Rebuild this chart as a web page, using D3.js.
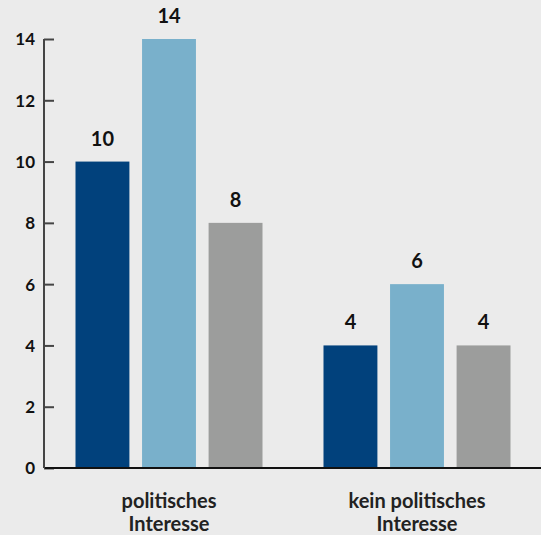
<!DOCTYPE html>
<html><head><meta charset="utf-8">
<script src="https://cdn.jsdelivr.net/npm/d3@7"></script>
<style>
html,body{margin:0;padding:0;background:#ebebeb;}
svg{display:block;font-family:Lato,"Noto Sans",sans-serif;font-weight:700;}
</style></head>
<body>
<svg id="c" width="541" height="535"></svg>
<script>
const categories = ["politisches\nInteresse", "kein politisches\nInteresse"];
const series = ["A", "B", "C"];
const valuesA = [10, 4];
const valuesB = [14, 6];
const valuesC = [8, 4];
const colors = ["#01417c", "#79b0cb", "#9c9d9c"];
const yTicks = [0, 2, 4, 6, 8, 10, 12, 14];

const W = 541, H = 535;
const m = {left: 45, right: 0, top: 39, bottom: 67};
const svg = d3.select("#c");
svg.append("rect").attr("width", W).attr("height", H).attr("fill", "#ebebeb");

const y = d3.scaleLinear().domain([0, 14]).range([H - m.bottom, m.top]);
const x0 = d3.scaleBand().domain(categories).range([m.left, W - m.right]).paddingInner(0).paddingOuter(0);
const x1 = d3.scaleBand().domain(series).range([0, 187]).paddingInner(0.19).paddingOuter(0);

const data = categories.map((c, i) => ({cat: c, vals: [valuesA[i], valuesB[i], valuesC[i]]}));

const g = svg.append("g");
const grp = g.selectAll("g.grp").data(data).join("g")
  .attr("transform", d => `translate(${x0(d.cat) + (x0.bandwidth() - 187) / 2},0)`);
grp.selectAll("rect").data(d => d.vals.map((v, j) => ({s: series[j], v, j}))).join("rect")
  .attr("x", d => x1(d.s)).attr("width", x1.bandwidth())
  .attr("y", d => y(d.v)).attr("height", d => y(0) - y(d.v))
  .attr("fill", d => colors[d.j]);
grp.selectAll("text").data(d => d.vals.map((v, j) => ({s: series[j], v, j}))).join("text")
  .attr("x", d => x1(d.s) + x1.bandwidth() / 2).attr("y", d => y(d.v) - 16)
  .attr("text-anchor", "middle").attr("font-size", 20).attr("fill", "#111")
  .text(d => d.v);

// y axis
const ya = svg.append("g").attr("transform", `translate(${m.left - 1},0)`)
  .call(d3.axisRight(y).tickValues(yTicks).tickSize(10).tickFormat(d3.format("d")));
ya.select(".domain").attr("stroke", "#444").attr("stroke-width", 2).attr("d", `M0,${y(14)}V${y(0)}`);
ya.selectAll(".tick line").attr("stroke", "#444").attr("stroke-width", 2);
ya.selectAll(".tick text").attr("x", -9).attr("dy", "0.35em").attr("text-anchor", "end").attr("font-size", 17)
  .attr("fill", "#111").attr("font-family", "Lato").attr("font-weight", 700);

// x axis
const xa = svg.append("g").attr("transform", `translate(0,${y(0)})`)
  .call(d3.axisBottom(x0).tickSize(0).tickFormat(""));
xa.select(".domain").attr("stroke", "#111").attr("stroke-width", 2).attr("d", `M${m.left},0H${W}`);
xa.selectAll(".tick").each(function(d) {
  const t = d3.select(this).append("text").attr("text-anchor", "middle")
    .attr("font-size", 20).attr("fill", "#222").attr("font-family", "Lato").attr("font-weight", 700);
  d.split("\n").forEach((line, i) => {
    t.append("tspan").attr("x", 0).attr("y", 40 + i * 23).text(line);
  });
});
</script>
</body></html>
